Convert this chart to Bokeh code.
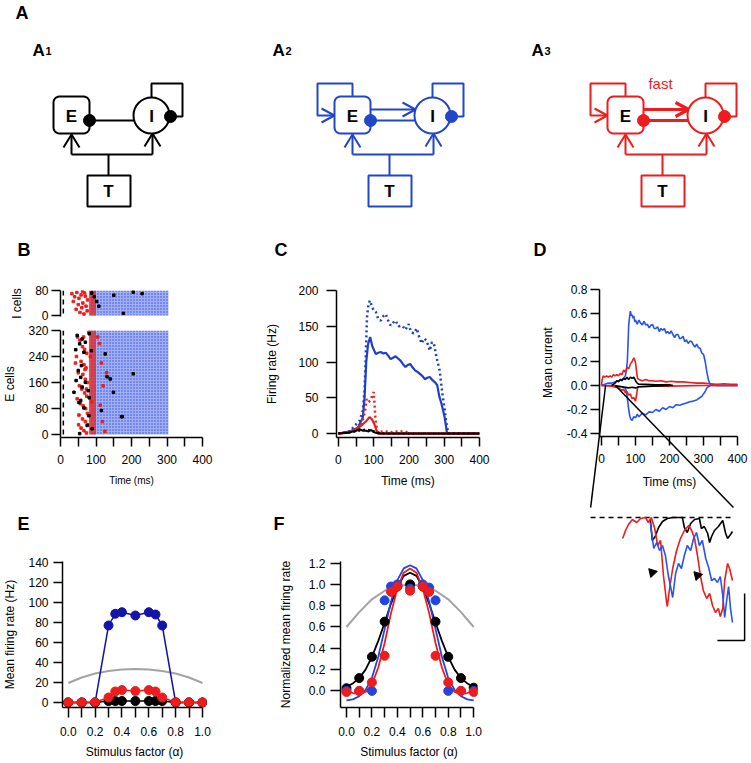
import math
from bokeh.plotting import figure
from bokeh.layouts import column, row
from bokeh.models import Range1d, LinearAxis, FixedTicker, Span, PrintfTickFormatter
from bokeh.core.properties import value
from bokeh.embed import file_html
from bokeh.resources import INLINE

FONT = "Liberation Sans"
BLUE_DIAG = "#2146c7"
RED = "#ee1c1c"
BLUE_C = "#1f3fc9"
BLUE_E = "#1414a8"
BLUE_F = "#2244e0"
BLUE_D = "#2555ee"
GRAY = "#a3a3a3"

# ---------------- Panel B (raster) ----------------
b_stim_onset = 8
b_blue_start, b_blue_end = 84, 304
b_red_start, b_red_end = 80, 100
b_e_cells, b_i_cells = 320, 80
b_e_black_t = [47, 61, 54, 70, 81, 43, 66, 87, 126, 59, 50, 44, 57, 70, 38, 61, 78, 57, 81, 140, 131, 205, 149, 172, 52, 66, 54, 80, 89, 115, 174, 75]
b_e_black_c = [305, 294, 279, 284, 310, 261, 253, 258, 248, 212, 197, 166, 176, 161, 130, 146, 135, 105, 113, 171, 178, 187, 130, 55, 99, 82, 3, 58, 18, 74, 55, 28]
b_e_red_t = [48, 55, 62, 68, 74, 45, 58, 66, 72, 50, 63, 70, 76, 53, 60, 68, 74, 47, 56, 64, 71, 76, 52, 62, 70, 77, 58, 66, 73, 110, 115, 120, 112, 118, 125, 105, 130, 80, 84, 88, 42, 65, 69, 73, 51]
b_e_red_c = [300, 290, 270, 262, 250, 240, 225, 215, 205, 190, 185, 170, 160, 150, 140, 128, 118, 110, 95, 88, 80, 65, 60, 48, 40, 30, 20, 12, 5, 280, 220, 150, 90, 40, 10, 300, 190, 315, 240, 100, 220, 300, 200, 140, 30]
b_i_red_t = [32, 40, 46, 52, 58, 63, 68, 72, 76, 44, 55, 66, 36, 60, 70, 50, 75, 62]
b_i_red_c = [70, 60, 74, 55, 66, 40, 72, 30, 50, 20, 10, 5, 45, 25, 62, 35, 15, 78]
b_i_black_t = [88, 95, 102, 108, 177, 205, 230, 150]
b_i_black_c = [72, 60, 45, 30, 7, 75, 70, 65]
b_yticks_i = [0, 80]
b_yticks_e = [0, 80, 160, 240, 320]
time_ticks = [0, 100, 200, 300, 400]
time_minor = [50, 150, 250, 350]

# ---------------- Panel C (firing rates) ----------------
c_t_blue_i = [0, 32, 46, 60, 69, 74, 77, 81, 85, 89, 95, 100, 106, 113, 120, 127, 134, 141, 148, 155, 162, 170, 181, 190, 199, 206, 213, 222, 229, 236, 243, 250, 259, 265, 271, 278, 287, 296, 301, 306, 312, 330, 400]
c_blue_i = [0, 3, 11, 18, 32, 60, 102, 163, 180, 186, 178, 172, 170, 160, 158, 164, 167, 158, 151, 155, 158, 150, 151, 145, 153, 142, 140, 147, 135, 126, 133, 130, 116, 128, 125, 107, 88, 51, 35, 14, 0, 0, 0]
c_t_blue_e = [0, 32, 55, 69, 74, 79, 84, 90, 96, 106, 113, 120, 127, 134, 141, 148, 155, 162, 169, 176, 183, 190, 197, 204, 211, 218, 225, 232, 239, 245, 252, 259, 266, 273, 280, 286, 292, 297, 301, 305, 308, 330, 400]
c_blue_e = [0, 3, 8, 22, 50, 101, 125, 135, 122, 111, 113, 114, 112, 113, 109, 104, 106, 108, 105, 102, 97, 93, 96, 97, 92, 88, 86, 83, 80, 76, 78, 79, 75, 72, 68, 52, 42, 32, 23, 10, 0, 0, 0]
c_t_red_i = [0, 30, 50, 65, 75, 80, 85, 90, 95, 100, 105, 110, 130, 150, 170, 190, 200, 220, 400]
c_red_i = [0, 2, 6, 12, 30, 48, 44, 46, 52, 58, 20, 2, 3, 2, 3, 3, 0, 0, 0]
c_t_red_e = [0, 30, 51, 69, 80, 88, 95, 102, 111, 130, 400]
c_red_e = [0, 2, 6, 13, 18, 23, 20, 13, 0, 0, 0]
c_t_black_e = [0, 30, 41, 50, 60, 70, 79, 86, 93, 100, 106, 120, 400]
c_black_e = [0, 1, 3, 4, 6, 4, 4, 3, 5, 2, 1, 0, 0]
c_t_black_i = [0, 40, 60, 80, 95, 110, 130, 400]
c_black_i = [0, 2, 4, 6, 4, 2, 0, 0]
c_yticks = [0, 50, 100, 150, 200]

# ---------------- Panel D (mean currents) ----------------
d_t_blue_pos = [0, 10, 20, 30, 40, 50, 60, 65, 70, 73, 76, 78, 80, 83, 85, 88, 90, 93, 95, 98, 100, 105, 110, 115, 120, 125, 130, 135, 140, 145, 150, 155, 160, 165, 170, 175, 180, 185, 190, 195, 200, 205, 210, 215, 220, 225, 230, 235, 240, 245, 250, 255, 260, 265, 270, 275, 280, 285, 290, 295, 300, 305, 310, 315, 320, 340, 400]
d_blue_pos = [0, 0.01, 0.02, 0.02, 0.03, 0.04, 0.05, 0.06, 0.08, 0.12, 0.2, 0.35, 0.5, 0.58, 0.62, 0.58, 0.59, 0.56, 0.58, 0.53, 0.545, 0.51, 0.545, 0.52, 0.505, 0.535, 0.505, 0.51, 0.48, 0.50, 0.51, 0.475, 0.475, 0.49, 0.45, 0.475, 0.46, 0.475, 0.435, 0.45, 0.43, 0.455, 0.425, 0.40, 0.425, 0.425, 0.39, 0.395, 0.41, 0.365, 0.38, 0.35, 0.37, 0.365, 0.34, 0.32, 0.345, 0.315, 0.31, 0.27, 0.26, 0.2, 0.11, 0.04, 0.01, 0, 0]
d_t_blue_neg = [0, 40, 60, 70, 73, 76, 78, 80, 83, 86, 90, 95, 100, 105, 110, 120, 130, 140, 150, 160, 170, 180, 190, 200, 210, 220, 230, 240, 250, 260, 270, 280, 290, 295, 300, 305, 310, 315, 320, 400]
d_blue_neg = [0, 0, -0.01, -0.02, -0.05, -0.1, -0.15, -0.2, -0.25, -0.28, -0.29, -0.26, -0.27, -0.24, -0.26, -0.23, -0.245, -0.22, -0.225, -0.2, -0.215, -0.185, -0.2, -0.175, -0.185, -0.16, -0.165, -0.155, -0.145, -0.135, -0.13, -0.12, -0.1, -0.09, -0.07, -0.05, -0.02, -0.01, 0, 0]
d_t_red_pos = [0, 2, 5, 10, 15, 20, 25, 30, 35, 40, 45, 50, 55, 60, 65, 70, 75, 80, 85, 90, 95, 98, 100, 103, 106, 110, 120, 130, 140, 150, 160, 175, 190, 205, 220, 240, 260, 280, 300, 320, 340, 360, 380, 400]
d_red_pos = [0, 0.05, 0.08, 0.07, 0.08, 0.07, 0.08, 0.07, 0.09, 0.08, 0.09, 0.08, 0.10, 0.09, 0.13, 0.11, 0.15, 0.14, 0.18, 0.2, 0.23, 0.21, 0.19, 0.12, 0.06, 0.05, 0.04, 0.05, 0.04, 0.04, 0.035, 0.04, 0.03, 0.035, 0.03, 0.03, 0.025, 0.02, 0.02, 0.015, 0.01, 0.015, 0.01, 0.01]
d_t_red_neg = [0, 30, 50, 60, 65, 70, 75, 80, 85, 90, 95, 100, 103, 106, 110, 150, 200, 300, 400]
d_red_neg = [0, -0.005, -0.02, -0.04, -0.03, -0.06, -0.05, -0.08, -0.07, -0.11, -0.1, -0.13, -0.08, -0.02, -0.01, -0.005, -0.005, 0, 0]
d_t_black_pos = [30, 40, 45, 50, 55, 60, 65, 70, 75, 80, 85, 90, 95, 100, 105, 110, 130, 160, 200, 210]
d_black_pos = [0, 0.02, 0.04, 0.03, 0.05, 0.04, 0.06, 0.05, 0.07, 0.05, 0.07, 0.06, 0.07, 0.04, 0.02, 0.01, 0.01, 0.005, 0.005, 0]
d_t_black_neg = [40, 60, 80, 90, 100, 110, 150, 200]
d_black_neg = [-0.005, -0.01, -0.02, -0.015, -0.02, -0.01, -0.005, 0]
d_yticks = [-0.4, -0.2, 0.0, 0.2, 0.4, 0.6, 0.8]
d_zoom_window = [12, 41]

# inset (zoom of the 12-41 ms window)
ins_t_red = [18.2, 18.8, 19.4, 20.2, 21.1, 21.9, 22.9, 23.5, 24.1, 24.8, 25.4, 26.0, 26.6, 27.2, 27.4, 27.8, 28.5, 29.3, 30.1, 30.9, 31.8, 32.4, 33.0, 33.6, 34.2, 34.8, 35.5, 36.1, 36.7, 37.3, 37.9, 38.3, 38.8, 39.2, 39.8, 40.2, 40.8]
ins_red = [-0.021, -0.013, -0.007, -0.002, -0.005, -0.001, 0.0, -0.005, 0.0, -0.011, -0.028, -0.023, -0.058, -0.083, -0.089, -0.073, -0.051, -0.033, -0.021, -0.013, -0.008, -0.013, -0.021, -0.038, -0.058, -0.073, -0.081, -0.076, -0.088, -0.095, -0.091, -0.099, -0.091, -0.063, -0.046, -0.051, -0.063]
ins_t_blue = [23.9, 24.6, 25.2, 25.8, 26.4, 27.0, 27.6, 28.3, 28.5, 29.1, 29.7, 30.3, 30.9, 31.5, 32.2, 32.8, 33.4, 34.0, 34.6, 35.3, 35.9, 36.5, 37.1, 37.7, 38.3, 38.8, 39.2, 39.6, 40.0, 40.4, 40.8]
ins_blue = [-0.005, -0.031, -0.025, -0.033, -0.028, -0.038, -0.058, -0.075, -0.080, -0.056, -0.046, -0.051, -0.038, -0.028, -0.033, -0.021, -0.015, -0.028, -0.023, -0.041, -0.050, -0.063, -0.061, -0.065, -0.059, -0.078, -0.100, -0.083, -0.069, -0.091, -0.105]
ins_t_black = [23.9, 24.3, 24.9, 25.6, 26.4, 27.4, 28.5, 29.7, 30.5, 30.9, 31.5, 32.2, 33.0, 34.0, 34.4, 35.0, 35.7, 36.1, 36.5, 37.1, 37.9, 38.8, 39.4, 39.8, 40.4, 40.8]
ins_black = [-0.002, -0.023, -0.019, -0.010, -0.004, -0.001, 0.0, 0.0, 0.0, -0.010, -0.015, -0.006, -0.002, -0.001, -0.011, -0.009, -0.016, -0.025, -0.019, -0.013, -0.009, -0.003, -0.016, -0.021, -0.017, -0.014]
ins_arrow_t = [24.3, 33.6]
ins_arrow_v = [-0.055, -0.058]

# ---------------- Panel E ----------------
alpha = [0.0, 0.1, 0.2, 0.3, 0.35, 0.4, 0.5, 0.6, 0.65, 0.7, 0.8, 0.9, 1.0]
e_blue = [0, 0, 0, 77, 88.7, 90.3, 87, 90.3, 88, 77, 0, 0, 0]
e_red = [0, 0, 0.3, 5, 11, 12.5, 11.5, 12.5, 11, 5, 0.3, 0, 0]
e_black = [0, 0, 0, 1.5, 1.5, 1.5, 1.5, 1.5, 1.5, 1.5, 0, 0, 0]
alpha_10 = [0.0, 0.1, 0.2, 0.3, 0.4, 0.5, 0.6, 0.7, 0.8, 0.9, 1.0]
e_gray = [19.5, 25, 29, 31.5, 33, 33.5, 33, 31.5, 29, 25, 19.5]
e_yticks = [0, 20, 40, 60, 80, 100, 120, 140]
alpha_ticks = [0.0, 0.2, 0.4, 0.6, 0.8, 1.0]
alpha_minor = [0.1, 0.3, 0.5, 0.7, 0.9]

# ---------------- Panel F ----------------
f_blue = [0, 0, 0, 0.85, 0.98, 1.0, 0.96, 1.0, 0.97, 0.85, 0, 0, 0]
f_red = [-0.01, 0, 0.08, 0.33, 0.93, 0.98, 0.94, 0.98, 0.93, 0.33, 0.08, 0, -0.01]
f_black = [0.025, 0.12, 0.32, 0.65, 0.98, 1.0, 0.98, 0.65, 0.32, 0.12, 0.03]
f_gray = [0.6, 0.74, 0.86, 0.94, 0.985, 1.0, 0.985, 0.94, 0.86, 0.74, 0.6]
alpha_fit = [0.0, 0.05, 0.1, 0.15, 0.2, 0.25, 0.3, 0.35, 0.4, 0.45, 0.5, 0.55, 0.6, 0.65, 0.7, 0.75, 0.8, 0.85, 0.9, 0.95, 1.0]
f_fit_black = [0.04, 0.07, 0.12, 0.2, 0.32, 0.47, 0.64, 0.82, 0.97, 1.08, 1.11, 1.08, 0.97, 0.82, 0.64, 0.47, 0.32, 0.2, 0.12, 0.07, 0.04]
f_fit_blue = [-0.09, -0.08, -0.05, 0.01, 0.12, 0.32, 0.58, 0.84, 1.04, 1.15, 1.18, 1.15, 1.04, 0.84, 0.58, 0.32, 0.12, 0.01, -0.05, -0.08, -0.09]
f_fit_red = [0.0, -0.02, -0.03, -0.01, 0.06, 0.22, 0.45, 0.73, 0.96, 1.11, 1.15, 1.11, 0.96, 0.73, 0.45, 0.22, 0.06, -0.01, -0.03, -0.02, 0.0]
f_yticks = [0.0, 0.2, 0.4, 0.6, 0.8, 1.0, 1.2]


# ---------------- helpers ----------------
def base_fig(width, height, xr, yr, ml, mr, mt, mb, xaxis=True, yaxis=True):
    p = figure(width=width, height=height, x_range=Range1d(*xr), y_range=Range1d(*yr),
               output_backend="svg", toolbar_location=None,
               x_axis_location="below" if xaxis else None,
               y_axis_location="left" if yaxis else None,
               min_border_left=ml, min_border_right=mr, min_border_top=mt, min_border_bottom=mb)
    for g in p.grid:
        g.visible = False
    p.outline_line_color = None
    p.background_fill_color = "white"
    p.border_fill_color = "white"
    return p


def style_axis(ax, tick=9, lab_standoff=6, lab_size="12px", axlab_size="12px", axlab_standoff=6):
    ax.axis_line_width = 1.5
    ax.axis_line_color = "black"
    ax.major_tick_line_width = 1.5
    ax.minor_tick_line_width = 1.5
    ax.major_tick_line_color = "black"
    ax.minor_tick_line_color = "black"
    ax.major_tick_out = tick
    ax.major_tick_in = 0
    ax.minor_tick_out = tick
    ax.minor_tick_in = 0
    ax.major_label_standoff = lab_standoff
    ax.major_label_text_font = FONT
    ax.major_label_text_font_size = lab_size
    ax.major_label_text_color = "black"
    ax.axis_label_text_font = FONT
    ax.axis_label_text_font_size = axlab_size
    ax.axis_label_text_font_style = "normal"
    ax.axis_label_text_color = "black"
    ax.axis_label_standoff = axlab_standoff


def rounded_rect(x0, y0, x1, y1, r, n=6):
    xs, ys = [], []
    corners = [(x1 - r, y0 + r, -90, 0), (x1 - r, y1 - r, 0, 90),
               (x0 + r, y1 - r, 90, 180), (x0 + r, y0 + r, 180, 270)]
    for cx, cy, a0, a1 in corners:
        for k in range(n + 1):
            a = math.radians(a0 + (a1 - a0) * k / n)
            xs.append(cx + r * math.cos(a))
            ys.append(cy + r * math.sin(a))
    return xs, ys


def txt(p, x, y, s, size, color="black", style="normal", align="left", baseline="alphabetic", angle=0, **kw):
    p.text(x=[x], y=[y], text=[s], text_font=value(FONT), text_font_size=size,
           text_color=color, text_font_style=style, text_align=align,
           text_baseline=baseline, angle=angle, **kw)


# ---------------- Panel A: circuit diagrams ----------------
pa = base_fig(750, 262, (0, 750), (262, 0), 0, 0, 0, 0, xaxis=False, yaxis=False)


def circuit(p, dx, color, e_loop, ei_width):
    lw = 2
    sx = [[108, 108], [71, 152], [71, 71], [152, 152], [63, 71, 79], [144, 152, 160],
          [170, 182, 182, 151, 151]]
    sy = [[175, 154], [154, 154], [154, 134], [154, 133], [147, 134, 147], [146, 133, 146],
          [116, 116, 83, 83, 97]]
    if e_loop:
        sx += [[71, 71, 36, 36, 53], [40, 53, 40]]
        sy += [[96, 83, 83, 115, 115], [108, 115, 122]]
    p.multi_line([[x + dx for x in xs] for xs in sx], sy, line_color=color, line_width=lw)
    ex = [[89, 134]]
    ey = [[120, 120]]
    if e_loop:
        ex += [[89, 134], [121, 134, 121]]
        ey += [[109, 109], [102, 109, 116]]
    p.multi_line([[x + dx for x in xs] for xs in ex], ey, line_color=color, line_width=ei_width)
    xs, ys = rounded_rect(53 + dx, 96, 89 + dx, 133, 6)
    p.patch(xs, ys, fill_color="white", line_color=color, line_width=lw)
    p.circle(x=[151 + dx], y=[115], radius=18, fill_color="white", line_color=color, line_width=lw)
    p.quad(left=[87 + dx], right=[130 + dx], top=[175], bottom=[206], fill_color="white",
           line_color=color, line_width=lw)
    p.circle(x=[89 + dx, 170 + dx], y=[120, 116], radius=6, fill_color=color, line_color=color)
    p.text(x=[71 + dx, 151 + dx, 108 + dx], y=[116, 116, 191], text=["E", "I", "T"],
           text_font=value(FONT), text_font_size="17px", text_font_style="bold",
           text_align="center", text_baseline="middle", text_color="black")


circuit(pa, 0, "black", False, 2)
circuit(pa, 281, BLUE_DIAG, True, 2)
circuit(pa, 554, RED, True, 3.2)
txt(pa, 660, 83, "fast", "15px", color=RED, align="center")
txt(pa, 15, 12, "A", "18px", style="bold", baseline="middle")
for lx, sub in [(32, "1"), (272, "2"), (531, "3")]:
    txt(pa, lx, 50, "A", "17px", style="bold")
    txt(pa, lx + 13, 50, sub, "11px", style="bold")
for lx, let in [(17, "B"), (274, "C"), (533, "D")]:
    txt(pa, lx, 249, let, "18px", style="bold", baseline="middle")

# ---------------- Panel B ----------------
b_top = base_fig(262, 61, (0, 400), (-3, 80), 58, 60, 28, 7, xaxis=False)
b_bot = base_fig(262, 177, (0, 400), (-9, 320), 58, 60, 7, 63)
for pb, ncell in [(b_top, b_i_cells), (b_bot, b_e_cells)]:
    pb.quad(left=[b_blue_start], right=[b_blue_end], bottom=[0], top=[ncell],
            fill_color="#a3aff3", line_color=None, hatch_pattern="dot",
            hatch_color="#2a4de0", hatch_scale=3, hatch_weight=1.2)
    pb.quad(left=[b_red_start], right=[b_red_end], bottom=[0], top=[ncell],
            fill_color="#e02a2a", fill_alpha=0.8, line_color=None)
    pb.add_layout(Span(location=b_stim_onset, dimension="height", line_color="black",
                       line_width=1.5, line_dash="5 4"))
b_top.scatter(b_i_red_t, b_i_red_c, marker="square", size=2.5, color=RED)
b_top.scatter(b_i_black_t, b_i_black_c, marker="square", size=2.5, color="black")
b_bot.scatter(b_e_red_t, b_e_red_c, marker="square", size=2.5, color=RED)
b_bot.scatter(b_e_black_t, b_e_black_c, marker="square", size=2.5, color="black")

style_axis(b_top.yaxis[0], tick=9, lab_standoff=3, axlab_standoff=8)
b_top.yaxis[0].ticker = FixedTicker(ticks=b_yticks_i, minor_ticks=[])
b_top.yaxis[0].axis_label = "I cells"
style_axis(b_bot.yaxis[0], tick=9, lab_standoff=3, axlab_standoff=8)
b_bot.yaxis[0].ticker = FixedTicker(ticks=b_yticks_e, minor_ticks=[])
b_bot.yaxis[0].axis_label = "E cells"
style_axis(b_bot.xaxis[0], tick=9, lab_standoff=8, axlab_size="10px", axlab_standoff=8)
b_bot.xaxis[0].ticker = FixedTicker(ticks=time_ticks, minor_ticks=time_minor)
b_bot.xaxis[0].axis_label = "Time (ms)"

# ---------------- Panel C ----------------
pc = base_fig(228, 238, (-5.5, 400), (-5.5, 200), 71, 11, 28, 63)
pc.line(c_t_blue_i, c_blue_i, line_color=BLUE_C, line_width=2.5, line_dash="2 3")
pc.line(c_t_blue_e, c_blue_e, line_color=BLUE_C, line_width=2.2)
pc.line(c_t_red_i, c_red_i, line_color=RED, line_width=2.5, line_dash="2 3")
pc.line(c_t_red_e, c_red_e, line_color=RED, line_width=2.2)
pc.line(c_t_black_i, c_black_i, line_color="black", line_width=2, line_dash="2 3")
pc.line(c_t_black_e, c_black_e, line_color="black", line_width=2)
style_axis(pc.yaxis[0], tick=10, lab_standoff=8, axlab_standoff=16)
pc.yaxis[0].ticker = FixedTicker(ticks=c_yticks, minor_ticks=[])
pc.yaxis[0].axis_label = "Firing rate (Hz)"
style_axis(pc.xaxis[0], tick=9, lab_standoff=8, axlab_standoff=7)
pc.xaxis[0].ticker = FixedTicker(ticks=time_ticks, minor_ticks=time_minor)
pc.xaxis[0].axis_label = "Time (ms)"

# ---------------- strip with panel letters E, F ----------------
strip = base_fig(490, 37, (0, 490), (537, 500), 0, 0, 0, 0, xaxis=False, yaxis=False)
txt(strip, 17, 523, "E", "18px", style="bold", baseline="middle")
txt(strip, 273, 523, "F", "18px", style="bold", baseline="middle")

# ---------------- Panel D + inset ----------------
pd_ = base_fig(260, 500, (-208.8, 438.2), (-2.9, 0.9167), 40, 0, 13, 29, xaxis=False, yaxis=False)
pd_.extra_x_ranges = {"inset": Range1d(-0.757, 44.51)}
pd_.extra_y_ranges = {"inset": Range1d(-0.216, 0.242)}
yax = LinearAxis(fixed_location=-5.9, bounds=(-0.425, 0.8),
                 ticker=FixedTicker(ticks=d_yticks, minor_ticks=[]),
                 formatter=PrintfTickFormatter(format="%.1f"))
style_axis(yax, tick=9, lab_standoff=3)
pd_.add_layout(yax, "left")
xax = LinearAxis(fixed_location=-0.425, bounds=(-5.9, 400),
                 ticker=FixedTicker(ticks=time_ticks, minor_ticks=time_minor))
style_axis(xax, tick=9, lab_standoff=8)
pd_.add_layout(xax, "below")

pd_.line(d_t_blue_pos, d_blue_pos, line_color=BLUE_D, line_width=1.6)
pd_.line(d_t_blue_neg, d_blue_neg, line_color=BLUE_D, line_width=1.6)
pd_.line(d_t_red_pos, d_red_pos, line_color=RED, line_width=1.6)
pd_.line(d_t_red_neg, d_red_neg, line_color=RED, line_width=1.6)
pd_.line(d_t_black_pos, d_black_pos, line_color="black", line_width=1.6)
pd_.line(d_t_black_neg, d_black_neg, line_color="black", line_width=1.6)
txt(pd_, 200, -0.8, "Time (ms)", "12px", align="center", baseline="middle")
txt(pd_, -156, 0.19, "Mean current", "12px", align="center", baseline="middle", angle=math.pi / 2)

# connectors from the 12-41 ms window to the inset
pd_.line([d_zoom_window[0], -32], [0, -1.017], line_color="black", line_width=1.5)
pd_.line([d_zoom_window[1], 388], [0, -1.017], line_color="black", line_width=1.5)
ins = dict(x_range_name="inset", y_range_name="inset")
pd_.line([11.6, 40.8], [0, 0], line_color="black", line_width=1.5, line_dash="5 4", **ins)
pd_.line(ins_t_black, ins_black, line_color="black", line_width=1.6, **ins)
pd_.line(ins_t_red, ins_red, line_color=RED, line_width=1.6, **ins)
pd_.line(ins_t_blue, ins_blue, line_color=BLUE_D, line_width=1.6, **ins)
pd_.scatter(ins_arrow_t, ins_arrow_v, marker="triangle", size=9, angle=-1.35,
            color="black", **ins)
pd_.line([37.7, 43.3, 43.3], [-0.123, -0.123, -0.076], line_color="black", line_width=1.5, **ins)

# ---------------- Panel E ----------------
pe = base_fig(262, 225, (-0.043, 1.03), (-5, 141), 62, 56, 24, 55)
pe.line(alpha_10, e_gray, line_color=GRAY, line_width=2)
pe.line(alpha, e_blue, line_color=BLUE_E, line_width=1.5)
pe.scatter(alpha, e_blue, size=9, color=BLUE_E)
pe.line(alpha, e_black, line_color="black", line_width=1.5)
pe.scatter(alpha, e_black, size=9, color="black")
pe.line(alpha, e_red, line_color=RED, line_width=1.5)
pe.scatter(alpha, e_red, size=9, color=RED)
style_axis(pe.yaxis[0], tick=9, lab_standoff=5, axlab_standoff=8)
pe.yaxis[0].ticker = FixedTicker(ticks=e_yticks, minor_ticks=[])
pe.yaxis[0].axis_label = "Mean firing rate (Hz)"
style_axis(pe.xaxis[0], tick=10, lab_standoff=9, axlab_standoff=6)
pe.xaxis[0].ticker = FixedTicker(ticks=alpha_ticks, minor_ticks=alpha_minor)
pe.xaxis[0].formatter = PrintfTickFormatter(format="%.1f")
pe.xaxis[0].bounds = (-0.043, 1.0)
pe.xaxis[0].axis_label = "Stimulus factor (α)"

# ---------------- Panel F ----------------
pf = base_fig(228, 225, (-0.047, 1.03), (-0.156, 1.215), 78, 13, 23, 55)
pf.line(alpha_10, f_gray, line_color=GRAY, line_width=2)
pf.line(alpha_fit, f_fit_black, line_color="black", line_width=1.8)
pf.line(alpha_fit, f_fit_blue, line_color=BLUE_F, line_width=1.8)
pf.line(alpha_fit, f_fit_red, line_color=RED, line_width=1.8)
pf.scatter(alpha_10, f_black, size=9, color="black")
pf.scatter(alpha, f_blue, size=9, color=BLUE_F)
pf.scatter(alpha, f_red, size=9, color=RED)
style_axis(pf.yaxis[0], tick=10, lab_standoff=5, axlab_standoff=13)
pf.yaxis[0].ticker = FixedTicker(ticks=f_yticks, minor_ticks=[])
pf.yaxis[0].formatter = PrintfTickFormatter(format="%.1f")
pf.yaxis[0].axis_label = "Normalized mean firing rate"
style_axis(pf.xaxis[0], tick=10, lab_standoff=9, axlab_standoff=6)
pf.xaxis[0].ticker = FixedTicker(ticks=alpha_ticks, minor_ticks=alpha_minor)
pf.xaxis[0].formatter = PrintfTickFormatter(format="%.1f")
pf.xaxis[0].bounds = (-0.047, 1.0)
pf.xaxis[0].axis_label = "Stimulus factor (α)"

left_block = column(row(column(b_top, b_bot), pc), strip, row(pe, pf))
page = column(pa, row(left_block, pd_))

open("out.html", "w").write(file_html(page, INLINE))
